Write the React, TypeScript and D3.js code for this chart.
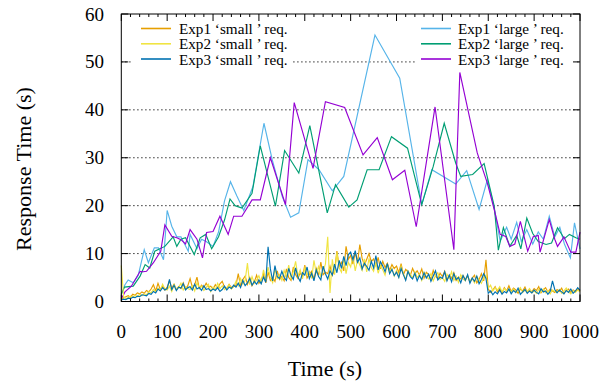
import React from "react";
import * as d3 from "d3";

// ---------- data ----------
const xTicks = [0, 100, 200, 300, 400, 500, 600, 700, 800, 900, 1000];
const yTicks = [0, 10, 20, 30, 40, 50, 60];

// small requests: sampled every 5 s from 0 to 1000
const smallStep = 5;
const exp1Small = [
  0.5,0.8,1.0,1.2,0.9,1.5,1.3,1.8,1.6,2.0,
  1.7,2.3,2.0,2.6,3.5,2.2,3.8,2.5,3.2,2.4,
  3.0,4.3,2.8,3.6,2.5,3.1,2.7,3.9,2.6,3.3,
  4.8,2.9,3.5,5.1,2.7,3.4,2.9,3.8,3.0,3.2,
  2.6,3.5,2.8,3.7,4.2,3.0,2.7,3.6,2.9,3.1,
  3.4,5.8,3.2,4.6,5.3,3.6,5.0,3.3,4.1,5.5,
  3.8,4.5,5.8,3.9,6.2,4.4,5.0,4.2,6.4,4.6,
  5.2,4.3,6.8,5.0,4.4,7.2,5.6,4.8,6.0,5.1,
  7.6,4.9,5.7,6.3,4.6,6.9,5.4,8.2,5.6,6.1,
  5.8,7.4,5.5,6.6,10.5,7.3,8.2,6.4,11.5,8.8,
  9.6,7.8,10.2,8.1,11.9,9.0,7.6,8.8,10.0,8.3,
  8.9,7.5,9.2,6.8,8.4,7.1,8.0,6.5,7.7,6.9,
  7.4,6.0,7.9,5.6,6.7,6.2,5.4,6.9,5.8,6.4,
  5.5,6.8,4.9,6.1,5.6,4.6,6.5,5.3,4.8,5.9,
  5.2,6.3,4.5,5.5,4.9,6.0,4.4,5.1,4.7,5.4,
  4.6,5.3,4.1,4.9,5.5,3.9,4.6,5.8,4.3,8.7,
  2.6,1.9,2.4,3.1,2.0,2.7,1.8,2.9,2.2,3.3,
  2.1,2.8,2.4,1.7,2.6,2.2,3.0,1.9,2.5,2.0,
  2.7,2.3,3.1,1.8,2.4,2.9,2.0,2.6,2.2,1.9,
  2.5,2.1,2.8,1.7,2.3,2.6,1.9,2.4,2.1,2.7,
  2.2,
];
const exp2Small = [
  7.5,1.0,0.6,0.8,1.1,0.9,1.3,1.0,1.5,1.2,
  1.6,1.4,2.1,1.8,2.5,2.0,2.8,2.3,3.6,2.6,
  2.4,3.2,2.1,3.5,2.6,2.9,3.8,2.4,3.1,2.7,
  2.5,3.3,2.2,3.9,2.8,3.2,2.3,2.9,3.6,2.1,
  3.0,2.4,3.8,2.7,3.3,2.5,2.9,3.5,2.6,3.1,
  4.2,3.3,4.8,3.6,4.4,8.0,3.5,5.2,3.8,4.5,
  5.4,4.0,6.6,4.5,7.2,5.0,3.9,6.8,4.8,5.6,
  4.4,6.5,5.1,7.6,4.9,6.2,8.4,5.3,6.6,4.7,
  7.0,5.5,6.3,4.8,8.6,5.9,7.3,5.2,6.4,7.8,
  13.5,1.8,8.8,5.6,10.2,7.0,6.1,9.1,5.8,8.2,
  7.2,9.5,6.4,8.7,7.6,6.5,8.9,6.2,9.0,7.1,
  6.3,8.1,5.9,7.5,6.6,5.5,7.8,6.0,6.9,5.3,
  6.5,5.1,7.3,5.8,4.6,6.4,5.7,4.9,6.2,5.0,
  5.6,4.4,6.1,5.2,4.7,5.8,4.3,5.4,6.0,4.6,
  5.0,4.2,5.7,4.8,6.2,4.4,5.3,4.0,5.6,4.7,
  4.3,5.4,4.1,4.8,3.9,5.2,4.5,3.8,4.9,5.5,
  2.8,3.4,2.2,2.9,2.4,3.1,2.0,2.7,2.3,2.5,
  2.0,2.6,1.8,2.3,2.9,1.9,2.4,2.1,2.7,1.8,
  2.2,1.7,2.5,2.0,2.6,1.8,2.3,1.6,2.4,2.1,
  1.9,2.5,1.7,2.2,2.8,2.0,1.6,2.3,1.9,2.4,
  2.0,
];
const exp3Small = [
  0.3,0.5,0.4,0.7,0.6,0.9,0.8,1.1,1.0,1.4,
  1.3,1.2,1.7,1.5,2.1,1.8,2.6,2.2,2.9,2.4,
  2.7,4.6,2.5,3.4,2.3,3.0,2.8,3.7,2.4,2.9,
  3.1,2.4,3.6,2.6,2.9,2.3,3.3,2.5,2.7,2.2,
  2.6,2.3,2.9,2.1,2.5,3.2,2.4,3.0,2.7,3.4,
  3.0,3.8,2.9,4.4,3.3,3.9,4.8,3.4,4.2,3.6,
  4.5,3.7,5.1,4.0,11.4,6.8,4.3,7.5,5.2,4.8,
  6.3,5.0,4.4,6.9,5.4,4.6,7.0,5.1,4.2,6.0,
  5.5,7.2,4.8,5.9,4.3,6.6,5.2,4.5,7.4,5.8,
  4.7,6.4,5.5,7.8,6.0,8.6,6.9,9.4,7.5,9.8,
  10.3,8.7,10.6,8.2,9.1,6.8,8.0,7.3,6.5,8.4,
  7.0,9.6,6.6,8.3,7.4,6.2,7.9,5.8,6.7,5.4,
  6.1,5.0,6.9,5.6,4.4,6.3,5.2,4.7,5.9,4.3,
  5.4,4.6,6.0,4.9,5.7,4.2,5.3,6.4,4.5,5.1,
  4.8,6.2,4.3,5.5,4.1,5.8,4.6,5.0,3.9,5.4,
  4.4,5.6,3.8,4.9,4.2,5.3,3.7,4.6,5.8,4.8,
  1.7,2.2,1.4,2.0,1.6,2.4,1.5,2.1,1.8,2.6,
  1.6,2.3,1.9,2.8,1.5,2.0,2.5,1.7,2.2,1.8,
  2.4,1.9,1.6,2.7,2.0,2.2,1.5,2.1,4.3,2.5,
  1.8,2.4,2.0,1.6,2.3,1.9,2.6,1.7,2.2,2.9,
  2.3,
];

// large requests: [time, response time]
const exp1Large: [number, number][] = [
  [0,1.5],[8,3.5],[15,4.5],[26,3.9],[37,5.5],[50,10.8],[59,8.1],[72,11.2],[81,11.2],[92,8.7],
  [100,19],[110,15.7],[121,13.5],[130,13.5],[146,10.5],[150,14],[165,11],[175,13],[185,12.5],[200,11.5],
  [212,14.5],[225,21],[238,25],[252,22],[267,19],[287,24],[311,37.2],[329,29.6],[351,21.9],[369,17.6],
  [387,18.5],[407,29.6],[431,27.5],[460,23.1],[485,26.1],[553,55.6],[607,46.6],[655,20.2],[677,27.5],[729,24.5],
  [753,27.3],[780,19.2],[798,25.4],[812,20],[826,12.6],[840,15.5],[850,13],[862,16.5],[872,12.5],[884,15],
  [897,12],[909,14.5],[920,13],[933,17.8],[945,13.5],[956,15.5],[966,12],[979,9.1],[988,16.4],[1000,11],
];
const exp2Large: [number, number][] = [
  [0,1.5],[7,3],[26,3.2],[41,5.3],[52,7.7],[62,7],[73,10.5],[84,11],[95,11.5],[113,13.5],
  [121,11.5],[130,13],[140,13.3],[159,9.8],[172,13.3],[184,14],[197,11],[212,13.5],[225,17],[237,21.4],
  [248,20],[263,19.5],[285,22.6],[303,32.5],[336,19.9],[356,31.5],[387,26.8],[411,36.7],[449,18.5],[467,24.4],
  [496,19.7],[514,21.2],[536,27.5],[562,27.5],[589,34.4],[624,32],[655,20.2],[680,28.2],[704,37.2],[729,28.9],
  [740,26.1],[766,26.5],[791,28.8],[813,19.9],[822,10.7],[833,15.4],[847,11.5],[862,13.8],[871,11],[884,17.4],
  [897,14.2],[909,12.5],[926,11.9],[938,12.2],[951,15.4],[966,13.1],[977,14],[991,13.3],[1000,13],
];
const exp3Large: [number, number][] = [
  [0,0.5],[8,2],[22,3.2],[41,6.3],[48,6.2],[55,6.3],[70,8.1],[86,10.5],[95,16],[110,13.6],
  [121,13.3],[130,12.9],[140,12],[150,15],[165,13],[177,9.1],[186,14.4],[200,14.6],[215,17.8],[233,14],
  [245,17.8],[263,17.8],[285,21.2],[303,21.2],[325,30],[358,20.2],[377,41.5],[418,27.8],[445,41.7],[487,40.5],
  [527,30.6],[558,34.2],[591,25.4],[618,27.4],[643,15.6],[684,40.6],[725,10.8],[738,47.8],[776,31],[798,24.7],
  [813,19.2],[826,14],[838,13.6],[847,11.5],[858,12],[870,16.7],[886,10.5],[898,13.5],[909,13.8],[913,10.3],
  [933,17.1],[945,13],[951,11.5],[965,13.5],[980,10.3],[991,10.3],[1000,14.5],
];

const seriesNames = [
  "Exp1 \u2018small \u2019 req.",
  "Exp2 \u2018small \u2019 req.",
  "Exp3 \u2018small \u2019 req.",
  "Exp1 \u2018large \u2019 req.",
  "Exp2 \u2018large \u2019 req.",
  "Exp3 \u2018large \u2019 req.",
];
const seriesColors = ["#E69F00", "#F0E442", "#0072B2", "#56B4E9", "#009E73", "#9400D3"];

// ---------- layout ----------
const W = 613;
const H = 385;
const left = 121.3;
const right = 580;
const top = 14;
const bottom = 301.5;
const FONT = "'Liberation Serif', 'DejaVu Serif', serif";

export default function App() {
  const x = d3.scaleLinear().domain([0, 1000]).range([left, right]);
  const y = d3.scaleLinear().domain([0, 60]).range([bottom, top]);

  const toPts = (arr: number[]) => arr.map((v, i) => [i * smallStep, v] as [number, number]);
  const smallSeries = [toPts(exp1Small), toPts(exp2Small), toPts(exp3Small)];
  const largeSeries = [exp1Large, exp2Large, exp3Large];
  const allSeries = [...smallSeries, ...largeSeries];

  const line = d3
    .line<[number, number]>()
    .x((d) => x(d[0]))
    .y((d) => y(d[1]));

  const minorTicks = d3.range(0, 1001, 20).filter((t) => t % 100 !== 0);

  // draw order: large first (behind), small after
  const drawOrder = [3, 4, 5, 0, 1, 2];

  const legendRowY = [28.5, 43.8, 59];

  return (
    <svg
      width={W}
      height={H}
      style={{ position: "absolute", left: 0, top: 0, background: "#fff" }}
      fontFamily={FONT}
    >
      <rect x={0} y={0} width={W} height={H} fill="#fff" />
      {/* grid */}
      {yTicks
        .filter((t) => t > 0 && t < 60)
        .map((t) => (
          <line
            key={"g" + t}
            x1={left}
            x2={right}
            y1={y(t)}
            y2={y(t)}
            stroke="#000"
            strokeWidth={1}
            strokeDasharray="1.2,2.8"
          />
        ))}
      {/* legend backgrounds */}
      <rect x={132} y={18} width={161} height={49} fill="#fff" />
      <rect x={416} y={18} width={160} height={49} fill="#fff" />

      {/* data */}
      {drawOrder.map((i) => (
        <path
          key={"s" + i}
          d={line(allSeries[i]) || ""}
          fill="none"
          stroke={seriesColors[i]}
          strokeWidth={1.15}
          strokeLinejoin="miter"
        />
      ))}

      {/* border */}
      <rect x={left} y={top} width={right - left} height={bottom - top} fill="none" stroke="#000" strokeWidth={1} />

      {/* x ticks */}
      {xTicks.map((t) => (
        <g key={"xt" + t}>
          <line x1={x(t)} x2={x(t)} y1={bottom} y2={bottom - 7} stroke="#000" />
          <line x1={x(t)} x2={x(t)} y1={top} y2={top + 7} stroke="#000" />
          <text x={x(t)} y={331} fontSize={19} textAnchor="middle" dominantBaseline="central" fill="#000">
            {t}
          </text>
        </g>
      ))}
      {minorTicks.map((t) => (
        <g key={"mx" + t}>
          <line x1={x(t)} x2={x(t)} y1={bottom} y2={bottom - 3} stroke="#000" />
          <line x1={x(t)} x2={x(t)} y1={top} y2={top + 3} stroke="#000" />
        </g>
      ))}
      {/* y ticks */}
      {yTicks.map((t) => (
        <g key={"yt" + t}>
          <line x1={left} x2={left + 7} y1={y(t)} y2={y(t)} stroke="#000" />
          <line x1={right} x2={right - 7} y1={y(t)} y2={y(t)} stroke="#000" />
          <text x={104} y={y(t)} fontSize={19} textAnchor="end" dominantBaseline="central" fill="#000">
            {t}
          </text>
        </g>
      ))}

      {/* axis labels */}
      <text x={325} y={376} fontSize={22} textAnchor="middle" fill="#000">
        Time (s)
      </text>
      <text
        transform={`translate(23,169) rotate(-90)`}
        fontSize={22}
        textAnchor="middle"
        dominantBaseline="central"
        fill="#000"
      >
        Response Time (s)
      </text>

      {/* legend */}
      {seriesNames.map((name, i) => {
        const col = i < 3 ? 0 : 1;
        const row = i % 3;
        const lx = col === 0 ? 141 : 421;
        const tx = col === 0 ? 179 : 458;
        const ry = legendRowY[row];
        return (
          <g key={"lg" + i}>
            <line x1={lx} x2={lx + 30} y1={ry} y2={ry} stroke={seriesColors[i]} strokeWidth={1.6} />
            <text x={tx} y={ry} fontSize={15.2} dominantBaseline="central" fill="#000">
              {name}
            </text>
          </g>
        );
      })}
    </svg>
  );
}
